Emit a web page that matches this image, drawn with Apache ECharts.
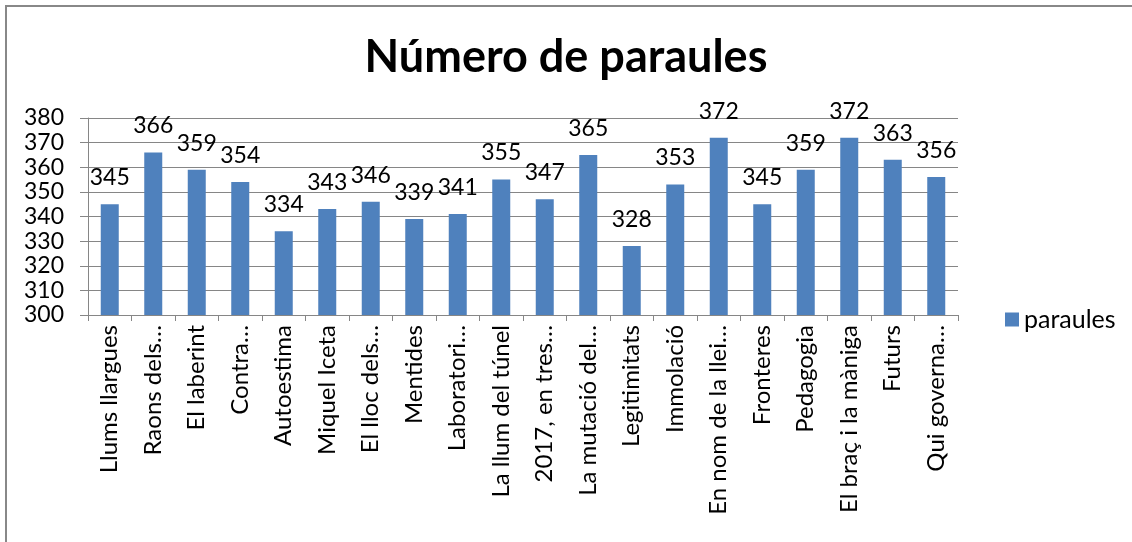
<!DOCTYPE html>
<html>
<head>
<meta charset="utf-8">
<script src="https://cdn.jsdelivr.net/npm/echarts@6/dist/echarts.min.js"></script>
<style>
html, body { margin: 0; padding: 0; background: #fff; }
#chart { width: 1132px; height: 542px; }
</style>
</head>
<body>
<div id="chart"></div>
<script>
// dades llegides del gràfic
var categories = ['Llums llargues', 'Raons dels…', 'El laberint', 'Contra…', 'Autoestima',
    'Miquel Iceta', 'El lloc dels…', 'Mentides', 'Laboratori…', 'La llum del túnel',
    '2017, en tres…', 'La mutació del…', 'Legitimitats', 'Immolació', 'En nom de la llei…',
    'Fronteres', 'Pedagogia', 'El braç i la màniga', 'Futurs', 'Qui governa…'];
var paraules = [345, 366, 359, 354, 334, 343, 346, 339, 341, 355,
    347, 365, 328, 353, 372, 345, 359, 372, 363, 356];

var font = 'Lato, "Open Sans", sans-serif';
var chart = echarts.init(document.getElementById('chart'));

var option = {
    animation: false,
    textStyle: { fontFamily: font },
    title: {
        text: 'Número de paraules',
        left: 'center',
        top: 30,
        textStyle: { fontSize: 45, fontWeight: 'bold', color: '#000', fontFamily: font }
    },
    legend: {
        data: ['paraules'],
        orient: 'vertical',
        left: 1000,
        top: 302,
        itemWidth: 14,
        itemHeight: 14,
        icon: 'rect',
        textStyle: { fontSize: 25, color: '#000', fontFamily: font }
    },
    grid: { left: 88, right: 174, top: 118, bottom: 227, containLabel: false },
    xAxis: {
        type: 'category',
        data: categories,
        axisLine: { lineStyle: { color: '#868686', width: 1 } },
        axisTick: { show: true, length: 6, lineStyle: { color: '#868686' } },
        axisLabel: { rotate: 90, interval: 0, fontSize: 24, color: '#000', margin: 10, fontFamily: font }
    },
    yAxis: {
        type: 'value',
        min: 300,
        max: 380,
        interval: 10,
        axisLine: { show: true, lineStyle: { color: '#868686' } },
        axisTick: { show: true, length: 8, inside: false, lineStyle: { color: '#868686' } },
        splitLine: { lineStyle: { color: '#868686', width: 1 } },
        axisLabel: { fontSize: 23, color: '#000', margin: 24, fontFamily: font }
    },
    series: [{
        name: 'paraules',
        type: 'bar',
        data: paraules,
        barWidth: 18,
        itemStyle: { color: '#4f81bd' },
        label: { show: true, position: 'top', distance: 15, fontSize: 23, color: '#000', fontFamily: font }
    }],
    graphic: [{
        type: 'polyline',
        shape: { points: [[6, 542], [6, 6], [1132, 6]] },
        style: { fill: null, stroke: '#888888', lineWidth: 2 },
        silent: true
    }]
};

chart.setOption(option);
</script>
</body>
</html>
